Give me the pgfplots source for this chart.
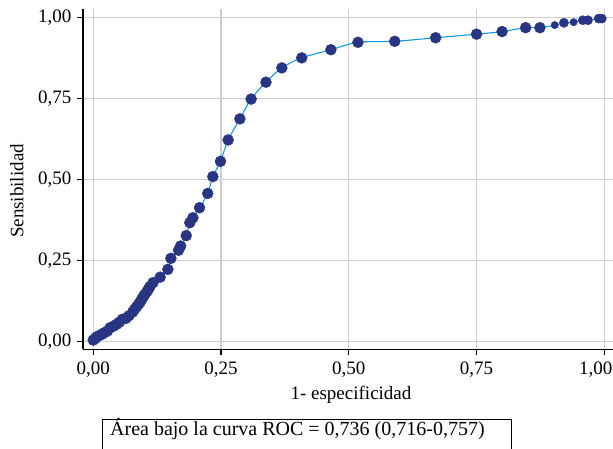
\documentclass[border=0pt]{standalone}
\usepackage{fontspec}
\setmainfont{Liberation Serif}
\usepackage{pgfplots}
\pgfplotsset{compat=1.18}
\definecolor{navy}{RGB}{40,53,131}
\definecolor{lblue}{RGB}{15,155,225}
\definecolor{gridgray}{RGB}{205,205,205}
\pgfplotstableread{
x y
0.000 0.005
0.004 0.010
0.007 0.015
0.012 0.019
0.017 0.023
0.022 0.028
0.028 0.033
0.033 0.043
0.040 0.048
0.046 0.054
0.051 0.060
0.057 0.069
0.064 0.072
0.070 0.080
0.077 0.091
0.081 0.100
0.085 0.108
0.089 0.116
0.092 0.123
0.095 0.131
0.098 0.139
0.101 0.146
0.105 0.154
0.108 0.162
0.111 0.170
0.117 0.182
0.131 0.199
0.146 0.223
0.152 0.257
0.167 0.282
0.171 0.295
0.182 0.327
0.189 0.367
0.195 0.382
0.208 0.413
0.224 0.457
0.234 0.509
0.249 0.556
0.264 0.622
0.287 0.687
0.309 0.748
0.338 0.800
0.369 0.844
0.408 0.875
0.465 0.900
0.518 0.923
0.590 0.926
0.670 0.937
0.750 0.948
0.800 0.956
0.846 0.968
0.874 0.968
0.903 0.976
0.921 0.983
0.940 0.985
0.958 0.991
0.968 0.991
0.989 0.996
0.995 0.996
}\roc
\pgfplotstableread{
x y
0.000 0.005
0.004 0.010
0.007 0.015
0.012 0.019
0.017 0.023
0.022 0.028
0.028 0.033
0.033 0.043
0.040 0.048
0.046 0.054
0.051 0.060
0.057 0.069
0.064 0.072
0.070 0.080
0.077 0.091
0.081 0.100
0.085 0.108
0.089 0.116
0.092 0.123
0.095 0.131
0.098 0.139
0.101 0.146
0.105 0.154
0.108 0.162
0.111 0.170
0.117 0.182
0.131 0.199
0.146 0.223
0.152 0.257
0.167 0.282
0.171 0.295
0.182 0.327
0.189 0.367
0.195 0.382
0.208 0.413
0.224 0.457
0.234 0.509
0.249 0.556
0.264 0.622
0.287 0.687
0.309 0.748
0.338 0.800
0.369 0.844
0.408 0.875
0.465 0.900
0.518 0.923
0.590 0.926
0.670 0.937
0.750 0.948
0.800 0.956
0.846 0.968
0.874 0.968
}\bigdots
\pgfplotstableread{
x y
0.921 0.983
0.958 0.991
0.968 0.991
0.989 0.996
0.995 0.996
}\middots
\pgfplotstableread{
x y
0.903 0.976
0.940 0.985
}\smalldots
\begin{document}
\fontsize{19}{23}\selectfont
\begin{tikzpicture}
\begin{axis}[
  at={(0pt,0pt)}, anchor=south west,
  scale only axis, width=530pt, height=340.3pt,
  xmin=-0.020, xmax=1.017, ymin=-0.0234, ymax=1.0256,
  axis x line*=bottom, axis y line*=left,
  axis line style={black, line width=1.3pt, -},
  xtick={0,0.25,0.5,0.75,1}, ytick={0,0.25,0.5,0.75,1},
  xticklabels={{0,00},{0,25},{0,50},{0,75},{\hspace*{-17pt}1,00}},
  yticklabels={{0,00},{0,25},{0,50},{0,75},{1,00}},
  tick align=outside, major tick length=6pt,
  tick style={black, line width=1.2pt},
  grid=major, major grid style={gridgray, line width=1.4pt},
  tick label style={font=\fontsize{19}{23}\selectfont},
  yticklabel style={xshift=1pt},
]
\addplot[lblue, line width=1.1pt, smooth, tension=0.5] table[x=x,y=y] {\roc};
\addplot[only marks, mark=*, mark size=5.5pt, navy] table[x=x,y=y] {\bigdots};
\addplot[only marks, mark=*, mark size=4.6pt, navy] table[x=x,y=y] {\middots};
\addplot[only marks, mark=*, mark size=3.7pt, navy] table[x=x,y=y] {\smalldots};
\end{axis}
\node[rotate=90, anchor=center] at (-66pt,158.3pt) {Sensibilidad};
\node[anchor=base] at (268pt,-50.2pt) {1- especificidad};
\draw[line width=1pt] (19pt,-70pt) rectangle (428pt,-125pt);
\node[anchor=base west, inner sep=0pt, font=\fontsize{20}{24}\selectfont] at (27pt,-86.4pt) {Área bajo la curva ROC = 0,736 (0,716-0,757)};
\pgfresetboundingbox
\path (-83pt,-98.7pt) rectangle (530pt,349.3pt);
\end{tikzpicture}
\end{document}
